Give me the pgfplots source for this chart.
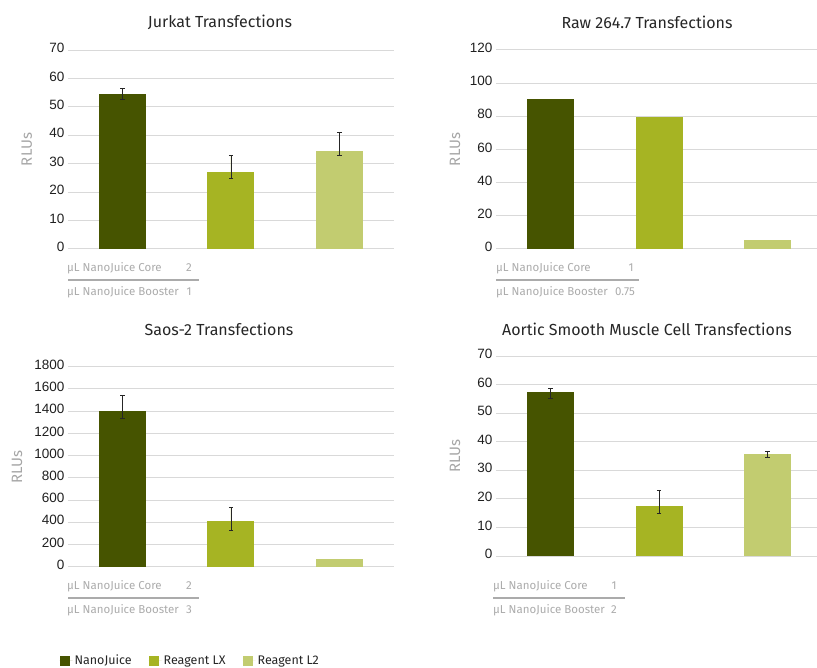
\documentclass[border=0pt]{standalone}
\usepackage{fontspec}
\setmainfont{Fira Sans}
\newfontfamily\tickfont{Liberation Sans}
\usepackage{pgfplots}
\pgfplotsset{compat=1.18}
\definecolor{cNJ}{HTML}{465400}
\definecolor{cLX}{HTML}{A6B423}
\definecolor{cLT}{HTML}{C2CC70}
\definecolor{gridc}{HTML}{D9D9D9}
\definecolor{labc}{HTML}{A6A6A6}
\definecolor{catc}{HTML}{ABABAB}
\pgfplotsset{
  panel/.style={
    scale only axis, width=326pt, anchor=south west,
    xmin=-0.5, xmax=2.5, ymin=0,
    ybar, bar width=47pt, bar shift=0pt,
    axis line style={draw=none},
    tick style={draw=none},
    xtick=\empty,
    ymajorgrids, grid style={draw=gridc, line width=1pt},
    /pgf/number format/assume math mode=true,
    /pgf/number format/1000 sep={},
    yticklabel style={font=\tickfont\fontsize{13.5}{13.5}\selectfont, text=black!88, yshift=2pt},
    ylabel={RLUs},
    ylabel style={at={(axis description cs:-0.126,0.5)}, anchor=center, font=\fontsize{15}{15}\selectfont, text=labc},
    clip=false,
  },
  eb/.style={error bars/.cd, y dir=both, y explicit,
    error bar style={draw=black!85, line width=0.8pt},
    error mark options={draw=black!85, rotate=90, mark size=2.2pt, line width=0.8pt},
    /pgfplots/.cd},
}
\begin{document}
\begin{tikzpicture}
\useasboundingbox (0pt,0pt) rectangle (817pt,-668pt);
\tikzset{cat/.style={font=\fontsize{11.5}{11.5}\selectfont, text=catc, inner sep=0pt},
         ttl/.style={font=\fontsize{16}{16}\selectfont, text=black!85}}
% ---------- Jurkat
\begin{axis}[panel, at={(68pt,-249pt)}, height=199pt, ymax=70, ytick={0,10,...,70}]
\addplot[fill=cNJ, draw=none, eb] coordinates {(0,54.5) += (0,1.9) -= (0,1.7)};
\addplot[fill=cLX, draw=none, eb] coordinates {(1,27.0) += (0,6.1) -= (0,2.1)};
\addplot[fill=cLT, draw=none, eb] coordinates {(2,34.5) += (0,6.4) -= (0,1.7)};
\end{axis}
\node[ttl] at (220pt,-22pt) {Jurkat Transfections};
\node[cat, anchor=west] at (67pt,-268pt) {µL NanoJuice Core};
\node[cat] at (189pt,-268pt) {2};
\draw[catc, line width=1.2pt] (68pt,-280pt) -- (199pt,-280pt);
\node[cat, anchor=west] at (67pt,-292pt) {µL NanoJuice Booster};
\node[cat] at (189pt,-292pt) {1};
% ---------- Raw 264.7
\begin{axis}[panel, at={(496pt,-249pt)}, height=199pt, ymax=120, ytick={0,20,...,120}]
\addplot[fill=cNJ, draw=none] coordinates {(0,90.5)};
\addplot[fill=cLX, draw=none] coordinates {(1,79.6)};
\addplot[fill=cLT, draw=none] coordinates {(2,5.4)};
\end{axis}
\node[ttl] at (647pt,-22pt) {Raw 264.7 Transfections};
\node[cat, anchor=west] at (496pt,-268pt) {µL NanoJuice Core};
\node[cat] at (631pt,-268pt) {1};
\draw[catc, line width=1.2pt] (496pt,-280pt) -- (639pt,-280pt);
\node[cat, anchor=west] at (496pt,-292pt) {µL NanoJuice Booster};
\node[cat, anchor=east] at (635pt,-292pt) {0.75};
% ---------- Saos-2
\begin{axis}[panel, at={(68pt,-566.7pt)}, height=200pt, ymax=1800, ytick={0,200,...,1800},
  ylabel style={at={(axis description cs:-0.156,0.5)}},
  legend style={at={(axis description cs:-0.0265,-0.47)}, anchor=west, draw=none, fill=none,
    legend columns=3, font=\fontsize{12.5}{12.5}\selectfont, text=black!85, inner sep=0pt,
    /tikz/every even column/.append style={column sep=15pt}},
  legend cell align=left]
\addplot[fill=cNJ, draw=none, legend image code/.code={\path (0pt,0pt) -- (13pt,0pt); \fill[cNJ] (0pt,-5pt) rectangle (10pt,5pt);}, eb] coordinates {(0,1400) += (0,145) -= (0,65)};
\addplot[fill=cLX, draw=none, legend image code/.code={\path (0pt,0pt) -- (13pt,0pt); \fill[cLX] (0pt,-5pt) rectangle (10pt,5pt);}, eb] coordinates {(1,410) += (0,120) -= (0,85)};
\addplot[fill=cLT, draw=none, legend image code/.code={\path (0pt,0pt) -- (13pt,0pt); \fill[cLT] (0pt,-5pt) rectangle (10pt,5pt);}] coordinates {(2,67)};
\legend{NanoJuice, Reagent LX, Reagent L2}
\end{axis}
\node[ttl] at (219pt,-329pt) {Saos-2 Transfections};
\node[cat, anchor=west] at (67pt,-586pt) {µL NanoJuice Core};
\node[cat] at (189pt,-586pt) {2};
\draw[catc, line width=1.2pt] (68pt,-598pt) -- (199pt,-598pt);
\node[cat, anchor=west] at (67pt,-610pt) {µL NanoJuice Booster};
\node[cat] at (189pt,-610pt) {3};
% ---------- Aortic
\begin{axis}[panel, at={(496pt,-556pt)}, height=200pt, ymax=70, ytick={0,10,...,70}]
\addplot[fill=cNJ, draw=none, eb] coordinates {(0,57.4) += (0,1.2) -= (0,2.2)};
\addplot[fill=cLX, draw=none, eb] coordinates {(1,17.4) += (0,5.5) -= (0,2.5)};
\addplot[fill=cLT, draw=none, eb] coordinates {(2,35.7) += (0,1.05) -= (0,1.05)};
\end{axis}
\node[ttl] at (647pt,-329pt) {Aortic Smooth Muscle Cell Transfections};
\node[cat, anchor=west] at (493pt,-586pt) {µL NanoJuice Core};
\node[cat] at (614pt,-586pt) {1};
\draw[catc, line width=1.2pt] (493pt,-598pt) -- (625pt,-598pt);
\node[cat, anchor=west] at (493pt,-610pt) {µL NanoJuice Booster};
\node[cat] at (614pt,-610pt) {2};
\end{tikzpicture}
\end{document}
